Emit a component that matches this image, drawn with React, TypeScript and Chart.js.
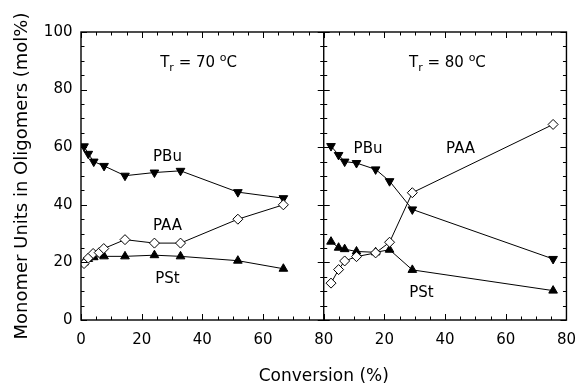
import React, { useEffect, useRef } from "react";
import { Chart, registerables } from "chart.js";
Chart.register(...registerables);

const FONT = "'DejaVu Sans', 'Liberation Sans', sans-serif";

// ---- 70 °C panel ----
const left_PBu_x = [1.0, 2.4, 4.2, 7.6, 14.5, 24.2, 32.8, 51.7, 66.7];
const left_PBu_y = [60.3, 57.7, 55.0, 53.5, 50.1, 51.2, 51.8, 44.4, 42.3];
const left_PAA_x = [1.0, 2.4, 4.0, 6.0, 7.5, 14.5, 24.2, 32.8, 51.7, 66.7];
const left_PAA_y = [19.6, 21.5, 23.1, 23.4, 24.8, 27.9, 26.7, 26.7, 35.0, 40.0];
const left_PSt_x = [1.0, 2.4, 4.2, 7.6, 14.5, 24.2, 32.8, 51.7, 66.7];
const left_PSt_y = [20.0, 21.2, 21.8, 22.1, 22.1, 22.5, 22.1, 20.6, 17.8];

// ---- 80 °C panel ----
const right_PBu_x = [2.4, 4.9, 6.9, 10.8, 17.1, 21.7, 29.2, 75.6];
const right_PBu_y = [60.4, 57.3, 55.0, 54.5, 52.3, 48.2, 38.4, 21.2];
const right_PAA_x = [2.4, 4.9, 6.9, 10.8, 17.1, 21.7, 29.2, 75.6];
const right_PAA_y = [12.8, 17.5, 20.5, 22.0, 23.3, 27.0, 44.2, 67.9];
const right_PSt_x = [2.4, 4.9, 6.9, 10.8, 17.1, 21.7, 29.2, 75.6];
const right_PSt_y = [27.2, 25.1, 24.6, 23.8, 23.5, 24.4, 17.4, 10.2];

// axis ticks
const xTickValues = [0, 20, 40, 60, 80];
const yTickValues = [0, 20, 40, 60, 80, 100];

// annotation labels (panel, x, y in data units)
const seriesLabels = [
  { panel: "x1", text: "PBu", x: 28.5, y: 56.4 },
  { panel: "x1", text: "PAA", x: 28.5, y: 32.5 },
  { panel: "x1", text: "PSt", x: 28.5, y: 14.1 },
  { panel: "x2", text: "PBu", x: 14.6, y: 59.4 },
  { panel: "x2", text: "PAA", x: 45.1, y: 59.4 },
  { panel: "x2", text: "PSt", x: 32.2, y: 9.3 },
];
const tempLabels = [
  { panel: "x1", temp: "70", x: 26.1, y: 88.0 },
  { panel: "x2", temp: "80", x: 28.1, y: 88.0 },
];

const pts = (xs: number[], ys: number[]) => xs.map((x, i) => ({ x, y: ys[i] }));

export default function App() {
  const ref = useRef<HTMLCanvasElement>(null);
  useEffect(() => {
    document.body.style.margin = "0";
    const canvas = ref.current!;
    const base: any = {
      borderColor: "#000",
      borderWidth: 1,
      pointBorderColor: "#000",
      pointBorderWidth: 1,
      showLine: true,
      tension: 0,
    };
    const diamond = { ...base, pointStyle: "rectRot", pointRadius: 5, pointBackgroundColor: "#fff" };
    const up = { ...base, pointStyle: "triangle", pointRadius: 5, pointBackgroundColor: "#000" };
    const down = { ...up, pointRotation: 180 };

    const line = (ctx: CanvasRenderingContext2D, a: number, b: number, c: number, d: number) => {
      ctx.beginPath();
      ctx.moveTo(a, b);
      ctx.lineTo(c, d);
      ctx.stroke();
    };

    const framePlugin = {
      id: "frame",
      afterDatasetsDraw(chart: any) {
        const { ctx, chartArea: ca, scales } = chart;
        const x1 = scales.x1, x2 = scales.x2, y = scales.y;
        ctx.save();
        ctx.strokeStyle = "#000";
        ctx.lineWidth = 1.4;
        ctx.strokeRect(ca.left, ca.top, ca.right - ca.left, ca.bottom - ca.top);
        const div = x1.getPixelForValue(80);
        line(ctx, div, ca.top, div, ca.bottom);
        ctx.lineWidth = 1;
        for (const sc of [x1, x2]) {
          for (let v = 0; v <= 80; v += 5) {
            const px = Math.round(sc.getPixelForValue(v)) + 0.5;
            const L = v % 20 === 0 ? 6 : 3.5;
            line(ctx, px, ca.bottom, px, ca.bottom - L);
            line(ctx, px, ca.top, px, ca.top + L);
          }
        }
        for (let v = 0; v <= 100; v += 5) {
          const py = Math.round(y.getPixelForValue(v)) + 0.5;
          const L = v % 20 === 0 ? 6 : 3.5;
          line(ctx, ca.left, py, ca.left + L, py);
          line(ctx, ca.right, py, ca.right - L, py);
          line(ctx, div - L, py, div + L, py);
        }
        ctx.fillStyle = "#000";
        ctx.textAlign = "center";
        ctx.textBaseline = "middle";
        ctx.font = `15px ${FONT}`;
        for (const l of seriesLabels) {
          ctx.fillText(l.text, scales[l.panel].getPixelForValue(l.x), y.getPixelForValue(l.y));
        }
        ctx.textAlign = "left";
        ctx.textBaseline = "alphabetic";
        for (const t of tempLabels) {
          let px = scales[t.panel].getPixelForValue(t.x);
          const py = y.getPixelForValue(t.y);
          const seg = (s: string, size: number, dy: number) => {
            ctx.font = `${size}px ${FONT}`;
            ctx.fillText(s, px, py + dy);
            px += ctx.measureText(s).width;
          };
          seg("T", 15, 0);
          seg("r", 11, 4);
          seg(` = ${t.temp} `, 15, 0);
          seg("o", 11, -6);
          seg("C", 15, 0);
        }
        ctx.restore();
      },
    };

    const tickFont = { family: FONT, size: 15 };
    const xScale = (id: string) => ({
      type: "linear",
      position: "bottom",
      stack: "conv",
      stackWeight: 1,
      min: 0,
      max: 80,
      afterFit: (s: any) => { s.height = 38.6; },
      afterBuildTicks: (s: any) => { s.ticks = xTickValues.map((v) => ({ value: v })); },
      grid: { display: false, drawTicks: false },
      border: { display: false },
      ticks: {
        autoSkip: false,
        maxRotation: 0,
        color: "#000",
        font: tickFont,
        padding: 11,
        callback: (v: any) => (id === "x2" && v === 0 ? "" : String(v)),
      },
    });

    const chart = new Chart(canvas, {
      type: "scatter",
      data: {
        datasets: [
          { ...diamond, label: "PAA 70", xAxisID: "x1", data: pts(left_PAA_x, left_PAA_y) },
          { ...down, label: "PBu 70", xAxisID: "x1", data: pts(left_PBu_x, left_PBu_y) },
          { ...up, label: "PSt 70", xAxisID: "x1", data: pts(left_PSt_x, left_PSt_y) },
          { ...diamond, label: "PAA 80", xAxisID: "x2", data: pts(right_PAA_x, right_PAA_y) },
          { ...down, label: "PBu 80", xAxisID: "x2", data: pts(right_PBu_x, right_PBu_y) },
          { ...up, label: "PSt 80", xAxisID: "x2", data: pts(right_PSt_x, right_PSt_y) },
        ],
      },
      options: {
        animation: false,
        responsive: false,
        devicePixelRatio: 1,
        layout: { padding: { left: 0, right: 12, top: 32, bottom: 0 } },
        plugins: {
          legend: { display: false },
          tooltip: { enabled: false },
          title: {
            display: true,
            text: "Conversion (%)",
            position: "bottom",
            fullSize: false,
            color: "#000",
            font: { family: FONT, size: 17, weight: "normal" },
            padding: { top: 8, bottom: 0 },
          },
        },
        scales: {
          x1: xScale("x1"),
          x2: xScale("x2"),
          y: {
            type: "linear",
            position: "left",
            min: 0,
            max: 100,
            afterFit: (s: any) => { s.width = 81; },
            afterBuildTicks: (s: any) => { s.ticks = yTickValues.map((v) => ({ value: v })); },
            grid: { display: false, drawTicks: false },
            border: { display: false },
            ticks: { color: "#000", font: tickFont, padding: 8.5 },
            title: {
              display: true,
              text: "Monomer Units in Oligomers (mol%)",
              color: "#000",
              font: { family: FONT, size: 18 },
              padding: { top: 12, bottom: 0 },
            },
          },
        },
      } as any,
      plugins: [framePlugin],
    } as any);
    return () => chart.destroy();
  }, []);
  return <canvas ref={ref} width={587} height={387} style={{ display: "block" }} />;
}
